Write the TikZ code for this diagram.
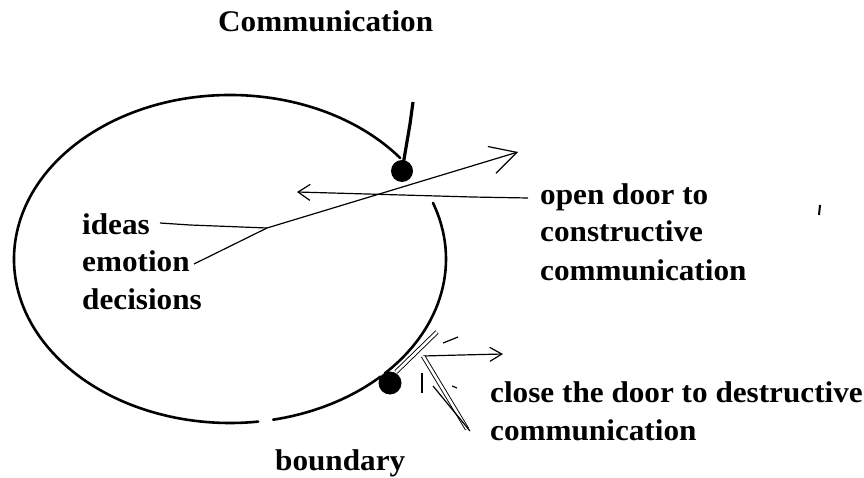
\documentclass[tikz,border=0pt]{standalone}
\usepackage{fontspec}
\setmainfont[FakeStretch=1.04]{Liberation Serif}
\usetikzlibrary{arrows.meta,calc}
\begin{document}
\begin{tikzpicture}[x=1pt,y=-1pt,
  lbl/.style={anchor=base west,inner sep=0pt,font=\fontsize{30}{30}\selectfont\bfseries},
  ell/.style={line width=2.6pt,line cap=round},
  thin/.style={line width=1.2pt},
  dbl/.style={line width=0.9pt,double,double distance=2.6pt},
  blob/.style={circle,fill=black,inner sep=0pt,minimum size=#1}]
\useasboundingbox (0,0) rectangle (864,478);
\coordinate (C) at (230,259);
% ellipse parts
\node[blob=22pt] (dotT) at (402,171) {};
\node[blob=23pt] (dotB) at (390,383) {};
\draw[ell] ($(C)+(-38:216 and 164)$) arc[start angle=-38,end angle=-277.5,x radius=216,y radius=164];
\draw[ell] ($(C)+(78.5:216 and 164)$) arc[start angle=78.5,end angle=46,x radius=216,y radius=164] -- (dotB.center);
\draw[ell] ($(C)+(-20:216 and 164)$) arc[start angle=-20,end angle=44,x radius=216,y radius=164] -- (dotB.center);
% top stroke
\coordinate (t0) at (413,102);
\draw[line width=3.2pt] (t0) -- (410,124) -- (dotT.center);
% labels
\node[lbl] (title) at (218,32) {Communication};
\node[lbl] (ideas) at (82,235) {ideas};
\node[lbl] (emotion) at (82,272) {emotion};
\node[lbl] (decisions) at (82,309) {decisions};
\node[lbl] (open1) at (540,205) {open door to};
\node[lbl] (open2) at (540,242) {constructive};
\node[lbl] (open3) at (540,280) {communication};
\node[lbl] (close1) at (490,402) {close the door to destructive};
\node[lbl] (close2) at (490,440) {communication};
\node[lbl] (bound) at (275,470) {boundary};
% emotion / ideas arrow
\coordinate (em0) at (194,264);
\coordinate (j) at (267,228);
\coordinate (a1) at (518,152);
\draw[thin,-{Straight Barb[length=26pt,width=28pt,line width=1.2pt]}] (em0) -- (j) -- (a1);
\coordinate (id0) at (160,223);
\draw[thin] (id0) -- (190,225) -- (j);
% open door arrow
\coordinate (od0) at (528,198);
\coordinate (od2) at (297,192);
\draw[thin,-{Straight Barb[length=12pt,width=16pt,line width=1.2pt]}] (od0) -- (472,197) -- (od2);
% door (double line)
\coordinate (dr0) at (396,372);
\coordinate (dr1) at (437,332);
\draw[dbl] (dr0) -- (dr1);
\coordinate (ds0) at (443,343);
\coordinate (ds1) at (458,337);
\draw[thin] (ds0) -- (ds1);
% close arrow
\coordinate (ca0) at (423,356);
\coordinate (ca1) at (503,354);
\draw[thin,-{Straight Barb[length=12pt,width=14pt,line width=1.2pt]}] (ca0) -- (461,355) -- (ca1);
\coordinate (cl1) at (467,429);
\draw[dbl] (ca0) -- (cl1);
\coordinate (cm0) at (433,386);
\coordinate (cm1) at (470,431);
\draw[thin] (cm0) -- (cm1);
\coordinate (tk0) at (422,373);
\coordinate (tk1) at (422,393);
\draw[thin] (tk0) -- (tk1);
\coordinate (sd0) at (452,386);
\coordinate (sd1) at (457,388);
\draw[thin] (sd0) -- (sd1);
% stray mark
\coordinate (sm0) at (820,205);
\coordinate (sm1) at (819,215);
\draw[line width=2pt] (sm0) -- (sm1);
\end{tikzpicture}
\end{document}
